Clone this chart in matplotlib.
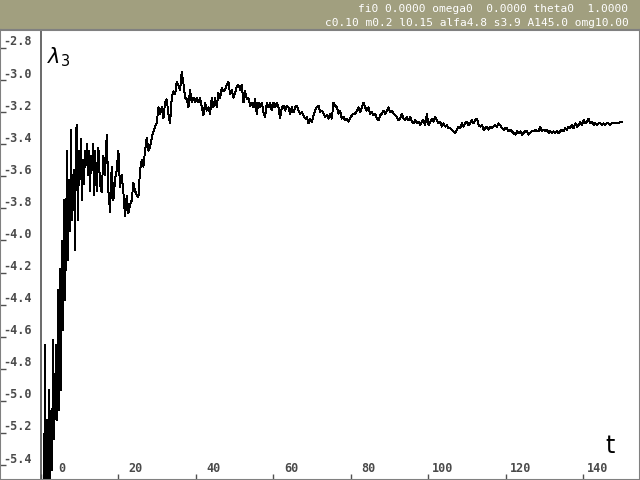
import numpy as np
import matplotlib
matplotlib.use("Agg")
import matplotlib.pyplot as plt
import matplotlib.transforms as mtransforms

# lambda_3 readings, early transient (fine sampling) and later part
T_EARLY_START, DT_EARLY = 0.9, 0.258
LAM_EARLY = [
    -5.70, -4.65, -5.65, -5.12, -5.60, -4.93, -5.55, -5.06, -5.43, -4.62,
    -5.24, -4.99, -4.65, -5.12, -4.31, -5.06, -4.18, -4.93, -4.00, -4.56,
    -3.75, -4.37, -4.00, -3.44, -4.12, -3.62, -3.94, -3.31, -3.87, -3.75,
    -3.56, -4.06, -3.31, -3.28, -3.87, -3.44, -3.62, -3.37, -3.75, -3.50,
    -3.65, -3.44, -3.53, -3.40, -3.59, -3.44, -3.69, -3.47, -3.56, -3.40,
    -3.72,
]

T_LATE_START, DT_LATE = 14.06, 0.43
LAM_LATE = [
    -3.44, -3.69, -3.42, -3.65, -3.70, -3.47, -3.59, -3.34, -3.69, -3.82,
    -3.54, -3.75, -3.62, -3.56, -3.44, -3.67, -3.59, -3.70, -3.85, -3.72,
    -3.83, -3.78, -3.75, -3.64, -3.69, -3.72, -3.73, -3.56, -3.50, -3.54,
    -3.44, -3.36, -3.44, -3.42,
    -3.36, -3.32, -3.29, -3.27, -3.17, -3.21, -3.17, -3.24, -3.14, -3.12,
    -3.21, -3.27, -3.11, -3.07, -3.09, -3.01, -3.03, -3.06, -2.95, -3.02,
    -3.11, -3.12, -3.17, -3.06, -3.14, -3.11, -3.14, -3.11, -3.14, -3.11,
    -3.17, -3.22, -3.14, -3.19, -3.17, -3.21, -3.11, -3.17, -3.11, -3.17,
    -3.08, -3.11, -3.05, -3.07, -3.06, -3.03,
    -3.01, -3.09, -3.06, -3.11, -3.08, -3.04, -3.03, -3.06, -3.03, -3.14,
    -3.07, -3.12, -3.11, -3.16, -3.14, -3.17, -3.12, -3.21, -3.14, -3.17,
    -3.14, -3.20, -3.23, -3.14, -3.17, -3.14, -3.19, -3.14, -3.17, -3.14,
    -3.17, -3.24, -3.17, -3.16, -3.19, -3.16, -3.17, -3.21, -3.17, -3.20,
    -3.17, -3.16, -3.19, -3.21, -3.20, -3.22, -3.24, -3.23, -3.27, -3.24,
    -3.26, -3.22, -3.19, -3.17, -3.16, -3.20, -3.19, -3.21, -3.23,
    -3.22, -3.24, -3.21, -3.24, -3.14, -3.16, -3.17, -3.21, -3.19, -3.24,
    -3.23, -3.25, -3.24, -3.26, -3.24, -3.22, -3.21, -3.21, -3.19, -3.17,
    -3.20, -3.17, -3.14, -3.17, -3.19, -3.17, -3.21, -3.20, -3.22, -3.21,
    -3.24, -3.25, -3.22, -3.21, -3.19, -3.21, -3.19, -3.17, -3.20, -3.19,
    -3.21, -3.22, -3.23, -3.25, -3.24, -3.21, -3.24, -3.25, -3.23, -3.25,
    -3.23, -3.26, -3.27, -3.25, -3.27, -3.26,
    -3.28, -3.26, -3.25, -3.28, -3.21, -3.28, -3.26, -3.24, -3.26, -3.23,
    -3.25, -3.27, -3.26, -3.29, -3.27, -3.29, -3.28, -3.30, -3.30, -3.31,
    -3.32, -3.33, -3.31, -3.29, -3.30, -3.27, -3.29, -3.27, -3.26, -3.28,
    -3.27, -3.25, -3.27, -3.25, -3.24, -3.28, -3.29, -3.28, -3.31, -3.30,
    -3.29, -3.31, -3.29, -3.30, -3.29, -3.28, -3.29, -3.27, -3.28, -3.30,
    -3.31, -3.30, -3.30, -3.32, -3.31, -3.32, -3.33, -3.34, -3.32, -3.33,
    -3.32, -3.34, -3.33, -3.32, -3.32, -3.34, -3.33, -3.32, -3.32, -3.31,
    -3.32, -3.32, -3.29, -3.32, -3.31, -3.32, -3.31, -3.33, -3.32, -3.33,
    -3.32, -3.33, -3.32, -3.33, -3.32, -3.31, -3.32, -3.30, -3.31, -3.29,
    -3.30, -3.28, -3.30, -3.27, -3.29, -3.28, -3.26, -3.28, -3.25, -3.27,
    -3.26, -3.24, -3.27, -3.26, -3.28, -3.27, -3.28, -3.27, -3.27, -3.28,
    -3.27, -3.28, -3.27, -3.27, -3.28, -3.27, -3.27, -3.27, -3.27, -3.27,
    -3.26, -3.26,
]

X_TICKS = [0, 20, 40, 60, 80, 100, 120, 140]
Y_TICKS = [-2.8, -3.0, -3.2, -3.4, -3.6, -3.8, -4.0, -4.2, -4.4,
           -4.6, -4.8, -5.0, -5.2, -5.4]

HEADER_1 = "fi0 0.0000 omega0  0.0000 theta0  1.0000"
HEADER_2 = "c0.10 m0.2 l0.15 alfa4.8 s3.9 A145.0 omg10.00"

t_early = T_EARLY_START + DT_EARLY * np.arange(len(LAM_EARLY))
t_late = T_LATE_START + DT_LATE * np.arange(len(LAM_LATE))
t = np.concatenate([t_early, t_late])
lam = np.array(LAM_EARLY + LAM_LATE)

fig = plt.figure(figsize=(6.4, 4.8), dpi=100)
fig.patch.set_facecolor("#a19f7f")
ax = fig.add_axes([0, 0, 1, 450 / 480])
ax.set_facecolor("white")

ax.plot(t, lam, color="black", lw=0.7, antialiased=False)
ax.axvline(0, color="#505050", lw=1.2)

ax.set_xlim(-10.45, 154.6)
ax.set_ylim(-5.493, -2.688)

for s in ax.spines.values():
    s.set_color("#808080")
    s.set_linewidth(1.5)

ax.set_xticks(X_TICKS)
ax.set_yticks(Y_TICKS)
ax.tick_params(direction="in", length=4, width=1, colors="#505050",
               labelleft=False, labelbottom=False)

gray = "#4a4a4a"
font = dict(family="DejaVu Sans Mono", weight="bold", size=8.5, color=gray)

ytrans = mtransforms.offset_copy(ax.get_yaxis_transform(), fig=fig,
                                 x=3, y=6, units="dots")
for v in Y_TICKS:
    ax.text(0, v, f"{v:.1f}", transform=ytrans, ha="left", va="center", **font)

xtrans = mtransforms.offset_copy(ax.get_xaxis_transform(), fig=fig,
                                 x=25, y=12, units="dots")
for v in X_TICKS:
    ax.text(v, 0, str(v), transform=xtrans, ha="right", va="center", **font)

ax.text(0.073, 0.965, r"$\lambda_3$", transform=ax.transAxes,
        ha="left", va="top", fontsize=15, color="black")
ax.text(0.953, 0.075, "t", transform=ax.transAxes, ha="center",
        va="center", fontsize=17, color="black")

fig.text(0.982, 1 - 9.5 / 480, HEADER_1, ha="right", va="center",
         family="DejaVu Sans Mono", size=8, color="white")
fig.text(0.982, 1 - 23 / 480, HEADER_2, ha="right", va="center",
         family="DejaVu Sans Mono", size=8, color="white")

fig.savefig("out.png", dpi=100, facecolor=fig.get_facecolor())
